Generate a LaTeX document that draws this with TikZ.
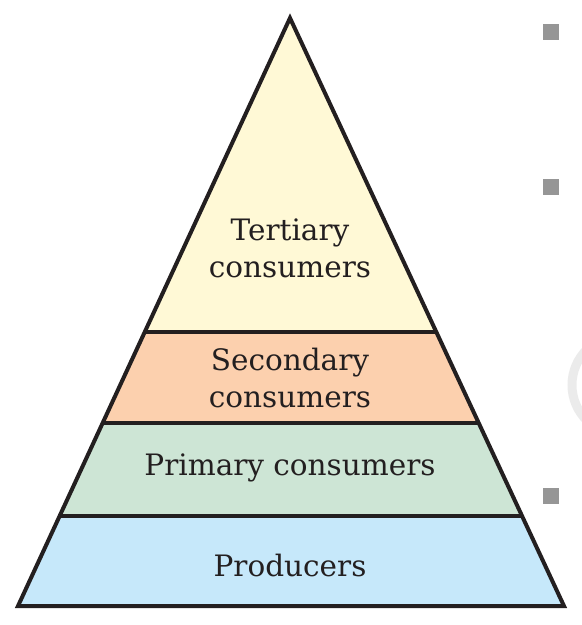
\documentclass[tikz,border=0pt]{standalone}
\usepackage{fontspec}
\setmainfont{DejaVu Serif}
\usetikzlibrary{calc}
\definecolor{tert}{HTML}{FFF9D6}
\definecolor{seco}{HTML}{FCD0AE}
\definecolor{prim}{HTML}{CDE5D5}
\definecolor{prod}{HTML}{C6E8FA}
\definecolor{ink}{HTML}{231F20}
\definecolor{bul}{HTML}{969696}
\begin{document}
\begin{tikzpicture}[x=1pt,y=-1pt,
  band/.style={draw=ink,line width=4pt,line join=miter},
  lbl/.style={font=\fontsize{29.5}{37}\selectfont,text=ink,align=center},
  bullet/.style={fill=bul,minimum size=16pt,inner sep=0pt}]
\useasboundingbox (0,0) rectangle (582,625);
\coordinate (apex) at (290,18);
\coordinate (bl) at (18,606);
\coordinate (br) at (564,606);
% band edges
\coordinate (l1) at ($(apex)!{(332-18)/588}!(bl)$);
\coordinate (r1) at ($(apex)!{(332-18)/588}!(br)$);
\coordinate (l2) at ($(apex)!{(423-18)/588}!(bl)$);
\coordinate (r2) at ($(apex)!{(423-18)/588}!(br)$);
\coordinate (l3) at ($(apex)!{(516-18)/588}!(bl)$);
\coordinate (r3) at ($(apex)!{(516-18)/588}!(br)$);
\fill[tert] (apex) -- (r1) -- (l1) -- cycle;
\fill[seco] (l1) -- (r1) -- (r2) -- (l2) -- cycle;
\fill[prim] (l2) -- (r2) -- (r3) -- (l3) -- cycle;
\fill[prod] (l3) -- (r3) -- (br) -- (bl) -- cycle;
\draw[band] (l1) -- (r1);
\draw[band] (l2) -- (r2);
\draw[band] (l3) -- (r3);
\draw[band] (apex) -- (br) -- (bl) -- cycle;
\node[lbl] (t) at (290,248) {Tertiary\\consumers};
\node[lbl] (s) at (290,378) {Secondary\\consumers};
\node[lbl] (p) at (290,468) {Primary consumers};
\node[lbl] (d) at (290,565) {Producers};
\node[bullet] (b1) at (551,32) {};
\node[bullet] (b2) at (551,187) {};
\node[bullet] (b3) at (551,496) {};
\draw[black!8,line width=9pt] (622,385) circle (50);
\end{tikzpicture}
\end{document}
